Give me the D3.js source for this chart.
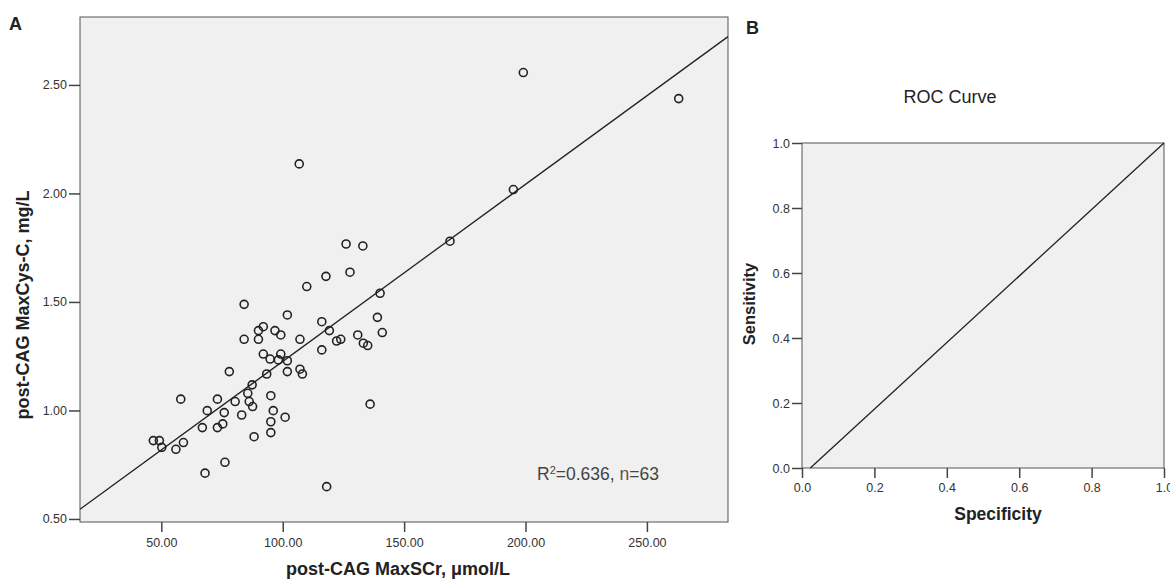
<!doctype html>
<html>
  <head>
    <meta charset="utf-8">
    <title>post-CAG MaxCys-C vs MaxSCr / ROC</title>
    <script src="https://d3js.org/d3.v7.min.js"></script>
    <style>
      * { margin: 0; padding: 0; }
      body { background: #fff; font-family: Arial, "Liberation Sans", Helvetica, sans-serif; }
      .tick text { fill: #333; }
    </style>
  </head>
  <body>
    <script>
    // panel A: scatter data
    var scrValues = [109.9, 140.1, 84.1, 101.9, 116.1, 139.0, 92.0, 90.0, 96.8, 99.2,
      119.2, 130.9, 141.0, 84.1, 90.0, 107.1, 122.2, 123.9, 133.2, 135.0,
      116.1, 92.0, 99.2, 94.8, 98.2, 101.9, 78.0, 101.9, 107.1, 108.1,
      93.4, 87.4, 85.6, 86.2, 87.6, 95.1, 58.0, 73.1, 80.4, 68.9,
      75.9, 96.1, 83.1, 101.0, 95.1, 75.3, 73.1, 66.9, 95.1, 88.2,
      46.7, 49.2, 50.2, 59.1, 56.0, 76.2, 68.0, 118.1, 136.0, 106.8,
      126.1, 133.0, 127.7, 117.8, 199.1, 263.1, 195.0, 168.9];
    var cysValues = [1.571, 1.540, 1.489, 1.440, 1.409, 1.429, 1.386, 1.368, 1.368, 1.348,
      1.368, 1.348, 1.359, 1.328, 1.328, 1.328, 1.320, 1.328, 1.310, 1.299,
      1.279, 1.260, 1.260, 1.237, 1.233, 1.229, 1.179, 1.179, 1.190, 1.168,
      1.168, 1.118, 1.079, 1.041, 1.018, 1.068, 1.052, 1.052, 1.041, 0.999,
      0.990, 0.999, 0.979, 0.969, 0.948, 0.938, 0.921, 0.921, 0.898, 0.879,
      0.861, 0.861, 0.830, 0.852, 0.821, 0.761, 0.711, 0.649, 1.029, 2.136,
      1.767, 1.758, 1.637, 1.618, 2.557, 2.437, 2.018, 1.780];
    // fit line (intercept, slope)
    var fitLine = [0.410, 0.00816];
    var xTicksA = [50, 100, 150, 200, 250];
    var yTicksA = [0.5, 1.0, 1.5, 2.0, 2.5];

    // panel B: ROC curve points
    var rocX = [0.023, 1.0];
    var rocY = [0.0, 1.0];
    var ticksB = [0.0, 0.2, 0.4, 0.6, 0.8, 1.0];

    var W = 1170, H = 583;
    var svg = d3.select("body").append("svg").attr("width", W).attr("height", H);

    // ---------------- panel A ----------------
    var a = { left: 80, top: 17, right: 728, bottom: 522 };
    var x = d3.scaleLinear().domain([16.5, 283.4]).range([a.left, a.right]);
    var y = d3.scaleLinear().domain([0.486, 2.813]).range([a.bottom, a.top]);

    svg.append("rect")
      .attr("x", a.left).attr("y", a.top)
      .attr("width", a.right - a.left).attr("height", a.bottom - a.top)
      .attr("fill", "#f0f0f0").attr("stroke", "#555").attr("stroke-width", 1);

    var gxA = svg.append("g").attr("transform", "translate(0," + a.bottom + ")")
      .call(d3.axisBottom(x).tickValues(xTicksA).tickFormat(d3.format(".2f")).tickSize(10).tickPadding(6));
    var gyA = svg.append("g").attr("transform", "translate(" + a.left + ",0)")
      .call(d3.axisLeft(y).tickValues(yTicksA).tickFormat(d3.format(".2f")).tickSize(11).tickPadding(2));
    [gxA, gyA].forEach(function (g) {
      g.select(".domain").remove();
      g.selectAll(".tick line").attr("stroke", "#444").attr("stroke-width", 1.5);
      g.selectAll(".tick text").style("font-size", "12.5px").style("font-family", "Arial, 'Liberation Sans', sans-serif");
    });

    // fit line
    var xd = x.domain();
    svg.append("line")
      .attr("x1", x(xd[0])).attr("y1", y(fitLine[0] + fitLine[1] * xd[0]))
      .attr("x2", x(xd[1])).attr("y2", y(fitLine[0] + fitLine[1] * xd[1]))
      .attr("stroke", "#222").attr("stroke-width", 1.3);

    // points
    svg.append("g").selectAll("circle")
      .data(d3.range(scrValues.length))
      .enter().append("circle")
      .attr("cx", function (i) { return x(scrValues[i]); })
      .attr("cy", function (i) { return y(cysValues[i]); })
      .attr("r", 4)
      .attr("fill", "none")
      .attr("stroke", "#222")
      .attr("stroke-width", 1.6);

    // R2 note
    var note = svg.append("text")
      .attr("x", 537).attr("y", 480)
      .style("font-size", "17.5px").style("fill", "#444");
    note.append("tspan").text("R");
    note.append("tspan").attr("dy", -6).style("font-size", "11px").text("2");
    note.append("tspan").attr("dy", 6).text("=0.636, ");
    note.append("tspan").style("fill", "#6a4a4a").text("n");
    note.append("tspan").text("=63");

    svg.append("text")
      .attr("x", (a.left + a.right) / 2 - 6).attr("y", 575)
      .attr("text-anchor", "middle")
      .style("font-size", "18px").style("font-weight", "bold").style("fill", "#222")
      .text("post-CAG MaxSCr, μmol/L");

    svg.append("text")
      .attr("transform", "translate(29,305) rotate(-90)")
      .attr("text-anchor", "middle")
      .style("font-size", "18px").style("font-weight", "bold").style("fill", "#222")
      .text("post-CAG MaxCys-C, mg/L");

    svg.append("text").attr("x", 9).attr("y", 30)
      .style("font-size", "18px").style("font-weight", "bold").style("fill", "#222").text("A");

    // ---------------- panel B ----------------
    var b = { left: 802, top: 143, right: 1164, bottom: 468 };
    var xb = d3.scaleLinear().domain([0, 1]).range([b.left, b.right]);
    var yb = d3.scaleLinear().domain([0, 1]).range([b.bottom, b.top]);

    svg.append("rect")
      .attr("x", b.left).attr("y", b.top)
      .attr("width", b.right - b.left).attr("height", b.bottom - b.top)
      .attr("fill", "#f0f0f0").attr("stroke", "#555").attr("stroke-width", 1);

    var gxB = svg.append("g").attr("transform", "translate(0," + b.bottom + ")")
      .call(d3.axisBottom(xb).tickValues(ticksB).tickFormat(d3.format(".1f")).tickSize(10).tickPadding(5));
    var gyB = svg.append("g").attr("transform", "translate(" + b.left + ",0)")
      .call(d3.axisLeft(yb).tickValues(ticksB).tickFormat(d3.format(".1f")).tickSize(10).tickPadding(2));
    [gxB, gyB].forEach(function (g) {
      g.select(".domain").remove();
      g.selectAll(".tick line").attr("stroke", "#444").attr("stroke-width", 1.5);
      g.selectAll(".tick text").style("font-size", "12.5px").style("font-family", "Arial, 'Liberation Sans', sans-serif");
    });

    svg.append("path")
      .datum(d3.range(rocX.length))
      .attr("d", d3.line().x(function (i) { return xb(rocX[i]); }).y(function (i) { return yb(rocY[i]); }))
      .attr("fill", "none").attr("stroke", "#222").attr("stroke-width", 1.3);

    svg.append("text")
      .attr("x", 950).attr("y", 103)
      .attr("text-anchor", "middle")
      .style("font-size", "18px").style("fill", "#222")
      .text("ROC Curve");

    svg.append("text")
      .attr("x", 998).attr("y", 520)
      .attr("text-anchor", "middle")
      .style("font-size", "17.5px").style("font-weight", "bold").style("fill", "#222")
      .text("Specificity");

    svg.append("text")
      .attr("transform", "translate(755,304) rotate(-90)")
      .attr("text-anchor", "middle")
      .style("font-size", "16.5px").style("font-weight", "bold").style("fill", "#222")
      .text("Sensitivity");

    svg.append("text").attr("x", 746).attr("y", 34)
      .style("font-size", "18px").style("font-weight", "bold").style("fill", "#222").text("B");
    </script>
  </body>
</html>
